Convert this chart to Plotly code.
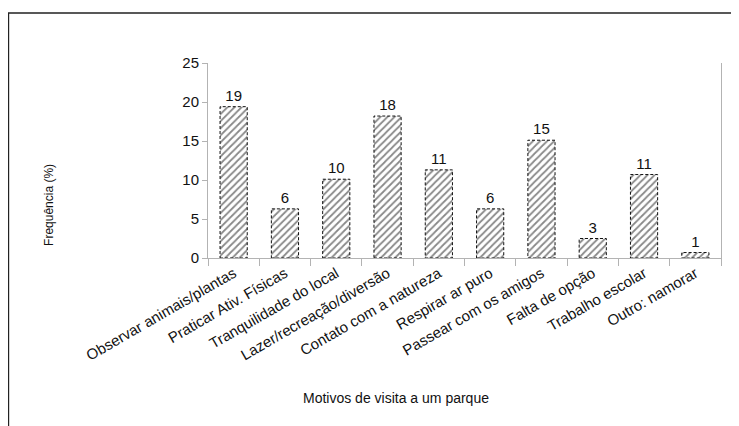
import plotly.graph_objects as go

# Motivos de visita a um parque (frequência em %)
motivos = [
    "Observar animais/plantas",
    "Praticar Ativ. Físicas",
    "Tranquilidade do local",
    "Lazer/recreação/diversão",
    "Contato com a natureza",
    "Respirar ar puro",
    "Passear com os amigos",
    "Falta de opção",
    "Trabalho escolar",
    "Outro: namorar",
]
frequencia = [19.4, 6.3, 10.1, 18.2, 11.3, 6.3, 15.1, 2.5, 10.7, 0.7]
rotulos = ["19", "6", "10", "18", "11", "6", "15", "3", "11", "1"]

largura = 0.53
fonte = "Liberation Sans, Arial, sans-serif"

fig = go.Figure()
fig.add_trace(
    go.Bar(
        x=motivos,
        y=frequencia,
        text=rotulos,
        textposition="outside",
        textfont={"size": 15, "color": "#111"},
        cliponaxis=False,
        width=largura,
        marker={
            "color": "white",
            "line": {"width": 0},
            "pattern": {
                "shape": "/",
                "fgcolor": "#111",
                "bgcolor": "white",
                "size": 5,
                "solidity": 0.35,
            },
        },
        showlegend=False,
    )
)

# contorno tracejado das barras
for i, v in enumerate(frequencia):
    fig.add_shape(
        type="rect",
        xref="x",
        yref="y",
        x0=i - largura / 2,
        x1=i + largura / 2,
        y0=0,
        y1=v,
        line={"color": "#111", "width": 1, "dash": "3px,2px"},
    )

# moldura do gráfico
fig.add_shape(
    type="rect",
    xref="paper",
    yref="paper",
    x0=-0.389,
    x1=2,
    y0=-2,
    y1=1.256,
    line={"color": "#222", "width": 1.5},
    layer="below",
)

fig.add_annotation(
    text="Motivos de visita a um parque",
    xref="paper",
    yref="paper",
    x=0.3665,
    y=-0.718,
    xanchor="center",
    yanchor="middle",
    showarrow=False,
    font={"size": 14, "color": "#111"},
)
fig.add_annotation(
    text="Frequência (%)",
    xref="paper",
    yref="paper",
    x=-0.31,
    y=0.272,
    xanchor="center",
    yanchor="middle",
    textangle=-90,
    showarrow=False,
    font={"size": 12, "color": "#111"},
)

fig.update_layout(
    width=739,
    height=426,
    margin={"l": 200, "r": 26, "t": 55, "b": 176},
    paper_bgcolor="white",
    plot_bgcolor="white",
    font={"family": fonte, "size": 15, "color": "#111"},
    bargap=0.47,
)
fig.update_xaxes(
    showline=True,
    linecolor="#b3b3b3",
    linewidth=1,
    ticks="outside",
    tickson="boundaries",
    ticklen=7,
    tickcolor="#b3b3b3",
    tickangle=-30,
    tickfont={"size": 15},
    showgrid=False,
)
fig.update_yaxes(
    range=[0, 25],
    dtick=5,
    showline=True,
    mirror=True,
    linecolor="#b3b3b3",
    linewidth=1,
    ticks="outside",
    ticklen=5,
    tickcolor="#b3b3b3",
    tickfont={"size": 15},
    showgrid=False,
    zeroline=False,
)

fig.write_html("out.html")
